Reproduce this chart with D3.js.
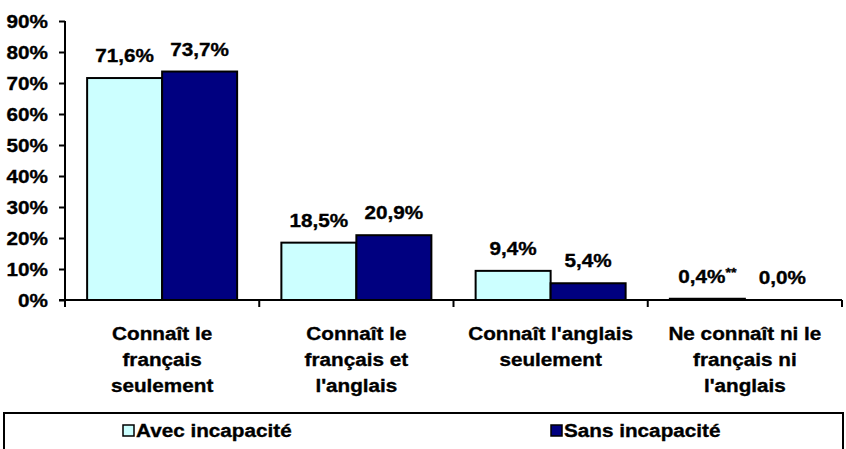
<!DOCTYPE html>
<html>
<head>
<meta charset="utf-8">
<script src="https://cdn.jsdelivr.net/npm/d3@7"></script>
<style>
  html, body { margin: 0; padding: 0; background: #fff; }
  svg { display: block; }
  text { font-family: "Liberation Sans", Arial, sans-serif; font-weight: bold; fill: #000; stroke: #000; stroke-width: 0.35px; }
</style>
</head>
<body>
<svg id="chart" width="846" height="449"></svg>
<script>
const categories = [
  ["Connaît le", "français", "seulement"],
  ["Connaît le", "français et", "l'anglais"],
  ["Connaît l'anglais", "seulement"],
  ["Ne connaît ni le", "français ni", "l'anglais"]
];
const seriesNames = ["Avec incapacité", "Sans incapacité"];
const avecValues = [71.6, 18.5, 9.4, 0.4];
const sansValues = [73.7, 20.9, 5.4, 0.0];
const valueLabelsAvec = ["71,6%", "18,5%", "9,4%", "0,4%"];
const valueLabelsSans = ["73,7%", "20,9%", "5,4%", "0,0%"];
const labelNotes = ["", "", "", "**"];
const yTicks = [0, 10, 20, 30, 40, 50, 60, 70, 80, 90];
const colors = ["#CCFFFF", "#000080"];

const SX = 1.09;      // horizontal stretch of the original's text
const FS = 19;

const svg = d3.select("#chart");
const mLeft = 65, mRight = 842, mTop = 21, mBottom = 300;

const x = d3.scaleBand().domain(d3.range(categories.length)).range([mLeft, mRight]).padding(0);
const xi = d3.scaleBand().domain([0, 1]).range([0, x.bandwidth()]).paddingInner(0).paddingOuter(0.295);
const y = d3.scaleLinear().domain([0, 90]).range([mBottom, mTop]);

function stext(g, px, py, str, anchor, size) {
  return g.append("text")
    .attr("transform", `translate(${px},${py}) scale(${SX},1)`)
    .attr("text-anchor", anchor)
    .style("font-size", (size || FS) + "px")
    .text(str);
}

// Bars
const data = categories.map((c, i) => ({ i, vals: [avecValues[i], sansValues[i]], labels: [valueLabelsAvec[i], valueLabelsSans[i]] }));
const gBars = svg.append("g");
data.forEach(d => {
  d.vals.forEach((v, s) => {
    gBars.append("rect")
      .attr("x", x(d.i) + xi(s))
      .attr("y", y(v))
      .attr("width", xi.bandwidth())
      .attr("height", y(0) - y(v))
      .attr("fill", colors[s])
      .attr("stroke", "#000")
      .attr("stroke-width", 2);
  });
});

// Y axis
const yAxis = d3.axisLeft(y).tickValues(yTicks).tickSize(6).tickFormat(d => d + "%");
const gy = svg.append("g").attr("transform", `translate(${mLeft},0)`).call(yAxis);
gy.select(".domain").attr("stroke", "#000").attr("stroke-width", 2).attr("d", `M0,${mTop}V${mBottom}`);
gy.selectAll(".tick line").attr("stroke", "#000").attr("stroke-width", 2);
gy.selectAll(".tick text").remove();
yTicks.forEach(t => {
  stext(svg, 48, y(t) + 7, t + "%", "end");
});

// X axis
const boundaries = d3.range(categories.length + 1).map(i => mLeft + i * x.bandwidth());
svg.append("line").attr("x1", mLeft - 6).attr("x2", mRight).attr("y1", mBottom).attr("y2", mBottom)
  .attr("stroke", "#000").attr("stroke-width", 2);
svg.selectAll(".xtick").data(boundaries).enter().append("line")
  .attr("x1", d => d).attr("x2", d => d).attr("y1", mBottom).attr("y2", mBottom + 7)
  .attr("stroke", "#000").attr("stroke-width", 2);

// Category labels
const lineY = [340, 366, 392];
categories.forEach((lines, i) => {
  const cx = x(i) + x.bandwidth() / 2;
  lines.forEach((ln, k) => stext(svg, cx, lineY[k], ln, "middle"));
});

// Value labels
data.forEach(d => {
  d.vals.forEach((v, s) => {
    const cx = x(d.i) + xi(s) + xi.bandwidth() / 2;
    const t = svg.append("text")
      .attr("transform", `translate(${cx},${y(v) - 16}) scale(${SX},1)`)
      .attr("text-anchor", "middle")
      .style("font-size", FS + "px");
    t.append("tspan").text(d.labels[s]);
    if (s === 0 && labelNotes[d.i]) {
      t.append("tspan").attr("dy", -6).style("font-size", "13px").text(labelNotes[d.i]);
    }
  });
});

// Legend
svg.append("rect").attr("x", 4).attr("y", 413).attr("width", 839).attr("height", 40)
  .attr("fill", "none").attr("stroke", "#000").attr("stroke-width", 2);
const legX = [123, 551];
seriesNames.forEach((n, s) => {
  svg.append("rect").attr("x", legX[s]).attr("y", 425).attr("width", 11).attr("height", 11)
    .attr("fill", colors[s]).attr("stroke", "#000").attr("stroke-width", 1.5);
  stext(svg, legX[s] + 13, 437, n, "start");
});
</script>
</body>
</html>
